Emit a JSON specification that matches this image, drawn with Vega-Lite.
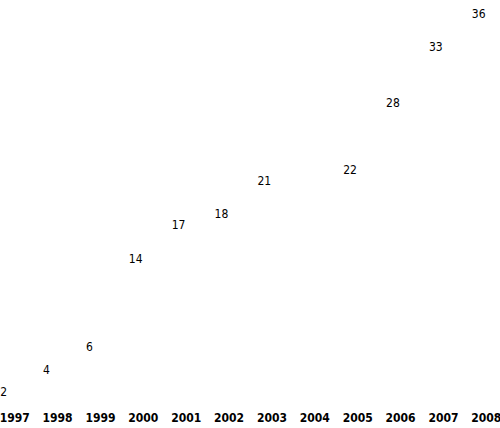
{
  "$schema": "https://vega.github.io/schema/vega-lite/v6.json",
  "width": 500,
  "height": 404,
  "padding": {"top": 0, "left": 0, "right": 0, "bottom": 24},
  "autosize": {"type": "none"},
  "background": "white",
  "config": {"view": {"stroke": null}},
  "data": {"values": [
    {"year": "1997", "value": 2},
    {"year": "1998", "value": 4},
    {"year": "1999", "value": 6},
    {"year": "2000", "value": 14},
    {"year": "2001", "value": 17},
    {"year": "2002", "value": 18},
    {"year": "2003", "value": 21},
    {"year": "2004", "value": null},
    {"year": "2005", "value": 22},
    {"year": "2006", "value": 28},
    {"year": "2007", "value": 33},
    {"year": "2008", "value": 36}
  ]},
  "mark": {"type": "text", "align": "left", "baseline": "middle", "dx": -14, "font": "DejaVu Sans Condensed, DejaVu Sans", "fontSize": 12, "color": "black", "clip": false},
  "encoding": {
    "x": {"field": "year", "type": "ordinal", "scale": {"type": "point", "padding": 0.33, "domain": ["1997","1998","1999","2000","2001","2002","2003","2004","2005","2006","2007","2008"]},
      "axis": {"title": null, "domain": false, "ticks": false, "grid": false, "labelAngle": 0, "labelFont": "DejaVu Sans Condensed, DejaVu Sans", "labelFontWeight": "bold", "labelFontSize": 12, "labelColor": "black", "labelPadding": 8}},
    "y": {"field": "value", "type": "quantitative", "scale": {"domain": [0.91, 37.26], "nice": false, "zero": false}, "axis": null},
    "text": {"field": "value", "type": "quantitative"}
  }
}
